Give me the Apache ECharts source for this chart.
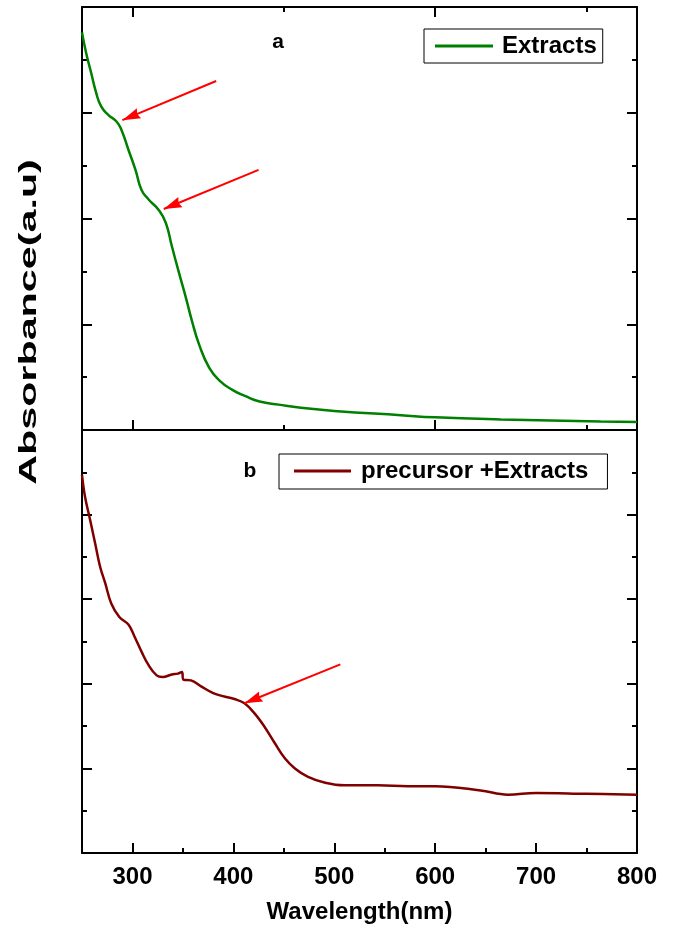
<!DOCTYPE html>
<html>
<head>
<meta charset="utf-8">
<title>Absorbance</title>
<script src="https://cdn.jsdelivr.net/npm/echarts@6/dist/echarts.min.js"></script>
<style>
  html, body { margin: 0; padding: 0; background: #fff; }
  #myChart { width: 673px; height: 930px; }
</style>
</head>
<body>
<div id="myChart"></div>
<script>
// panel a - extracts
var extractWl = [250, 254, 259, 264, 269, 276, 284, 289, 296, 303, 309, 316, 326, 333, 339, 346, 353, 359, 366, 376, 386, 399, 412, 426, 445, 467, 500, 566, 600, 665, 764, 800];
var extractAbs = [3.76, 3.57, 3.38, 3.19, 3.06, 2.98, 2.92, 2.84, 2.65, 2.46, 2.27, 2.18, 2.08, 1.96, 1.74, 1.49, 1.25, 1.03, 0.81, 0.59, 0.47, 0.38, 0.32, 0.27, 0.24, 0.21, 0.18, 0.14, 0.12, 0.10, 0.08, 0.075];
// panel b - precursor + extracts
var mixWl = [250, 253, 258, 263, 268, 273, 279, 287, 296, 302, 309, 316, 324, 330, 339, 345, 349, 350.5, 358, 368, 380, 391, 401, 411, 421, 431, 441, 451, 461, 474, 491, 510, 543, 573, 600, 645, 672, 700, 750, 800];
var mixAbs = [4.47, 4.21, 3.94, 3.66, 3.38, 3.19, 2.95, 2.79, 2.70, 2.56, 2.38, 2.22, 2.10, 2.08, 2.11, 2.12, 2.14, 2.05, 2.04, 1.97, 1.89, 1.85, 1.82, 1.77, 1.65, 1.49, 1.30, 1.12, 1.00, 0.90, 0.83, 0.80, 0.80, 0.79, 0.79, 0.74, 0.69, 0.71, 0.70, 0.69];
// x ticks
var xTickLabels = [300, 400, 500, 600, 700, 800];
var bottomMajorTicks = [300, 400, 500, 600, 700];
var bottomMinorTicks = [350, 450, 550, 650, 750];
var topMajorTicks = [300, 600];
var topMinorTicks = [450, 750];
// arrows [fromWl, fromAbs, toWl, toAbs]
var extractArrows = [[383, 3.30, 290, 2.93], [425, 2.46, 331, 2.09]];
var mixArrows = [[506, 2.23, 411, 1.77]];

var font = '"Liberation Sans", Arial, sans-serif';

function pairs(xs, ys) {
    return xs.map(function (x, i) { return [x, ys[i]]; });
}

// x axis drawing only the listed ticks (ECharts counts ticks from min, so list them)
function xTicks(gridIndex, position, ticks, len, withLine) {
    return {
        type: 'value',
        gridIndex: gridIndex,
        position: position,
        min: 250,
        max: 800,
        axisLine: { show: withLine, onZero: false, lineStyle: { color: '#000', width: 2 } },
        axisTick: { show: true, inside: true, length: len, customValues: ticks, lineStyle: { color: '#000', width: 2 } },
        axisLabel: { show: false },
        splitLine: { show: false }
    };
}

function yFrame(gridIndex, position, max) {
    return {
        type: 'value',
        gridIndex: gridIndex,
        position: position,
        min: 0,
        max: max,
        interval: 1,
        axisLine: { show: true, onZero: false, lineStyle: { color: '#000', width: 2 } },
        axisTick: { show: true, inside: true, length: 10, lineStyle: { color: '#000', width: 2 } },
        minorTick: { show: true, splitNumber: 2, length: 5, lineStyle: { color: '#000', width: 2 } },
        axisLabel: { show: false },
        splitLine: { show: false },
        minorSplitLine: { show: false }
    };
}

// red annotation arrows, head is a filled triangle with its tip on the end point
function arrowMarks(list) {
    return {
        silent: true,
        animation: false,
        symbol: ['none', 'none'],
        label: { show: false },
        lineStyle: { color: '#ff0000', width: 2, type: 'solid' },
        itemStyle: { color: '#ff0000' },
        data: list.map(function (a) {
            return [
                { coord: [a[0], a[1]], symbol: 'none' },
                { coord: [a[2], a[3]], symbol: 'path://M5,0 L10,18 L5,16 L0,18 Z', symbolSize: [11, 18], symbolOffset: [0, 9] }
            ];
        })
    };
}

var bottomX = xTicks(1, 'bottom', bottomMajorTicks, 10, true);
bottomX.axisLabel = {
    show: true,
    customValues: xTickLabels,
    margin: 12,
    fontSize: 24,
    fontWeight: 'bold',
    fontFamily: font,
    color: '#000'
};
bottomX.name = 'Wavelength(nm)';
bottomX.nameLocation = 'middle';
bottomX.nameGap = 47;
bottomX.nameTextStyle = { fontSize: 24, fontWeight: 'bold', fontFamily: font, color: '#000' };

var myChart = echarts.init(document.getElementById('myChart'));
var option = {
    animation: false,
    backgroundColor: '#fff',
    grid: [
        { left: 82, top: 7, width: 555, height: 423 },
        { left: 82, top: 430, width: 555, height: 423 }
    ],
    xAxis: [
        xTicks(0, 'bottom', topMajorTicks, 10, true),
        xTicks(0, 'bottom', topMinorTicks, 5, false),
        xTicks(0, 'top', topMajorTicks, 10, true),
        xTicks(0, 'top', topMinorTicks, 5, false),
        bottomX,
        xTicks(1, 'bottom', bottomMinorTicks, 5, false)
    ],
    yAxis: [
        yFrame(0, 'left', 4),
        yFrame(0, 'right', 4),
        yFrame(1, 'left', 5),
        yFrame(1, 'right', 5)
    ],
    legend: [
        {
            data: ['Extracts'],
            left: 424, top: 29,
            padding: [5, 6, 5, 11],
            borderColor: '#000', borderWidth: 1,
            itemWidth: 58, itemHeight: 3, icon: 'rect',
            selectedMode: false,
            textStyle: { fontSize: 24, fontWeight: 'bold', fontFamily: font, color: '#000', padding: [0, 0, 0, 4] }
        },
        {
            data: ['precursor +Extracts'],
            left: 279, top: 454,
            padding: [5, 19, 6, 15],
            borderColor: '#000', borderWidth: 1,
            itemWidth: 57, itemHeight: 3, icon: 'rect',
            selectedMode: false,
            textStyle: { fontSize: 24, fontWeight: 'bold', fontFamily: font, color: '#000', padding: [0, 0, 0, 5] }
        }
    ],
    graphic: [
        { type: 'text', x: 278, y: 42, style: { text: 'a', fontSize: 21, fontWeight: 'bold', fontFamily: font, fill: '#000', align: 'center', verticalAlign: 'middle' } },
        { type: 'text', x: 250, y: 471, style: { text: 'b', fontSize: 21, fontWeight: 'bold', fontFamily: font, fill: '#000', align: 'center', verticalAlign: 'middle' } },
        { type: 'text', x: 29, y: 322, rotation: Math.PI / 2, scaleX: 1.72, style: { text: 'Absorbance(a.u)', fontSize: 24, fontWeight: 'bold', fontFamily: font, fill: '#000', align: 'center', verticalAlign: 'middle' } }
    ],
    series: [
        {
            name: 'Extracts',
            type: 'line',
            xAxisIndex: 0, yAxisIndex: 0,
            data: pairs(extractWl, extractAbs),
            showSymbol: false,
            smooth: 0.5,
            color: '#008000',
            lineStyle: { color: '#008000', width: 2.5 },
            markLine: arrowMarks(extractArrows)
        },
        {
            name: 'precursor +Extracts',
            type: 'line',
            xAxisIndex: 4, yAxisIndex: 2,
            data: pairs(mixWl, mixAbs),
            showSymbol: false,
            smooth: 0.4,
            color: '#800000',
            lineStyle: { color: '#800000', width: 2.5 },
            markLine: arrowMarks(mixArrows)
        }
    ]
};
myChart.setOption(option);
</script>
</body>
</html>
